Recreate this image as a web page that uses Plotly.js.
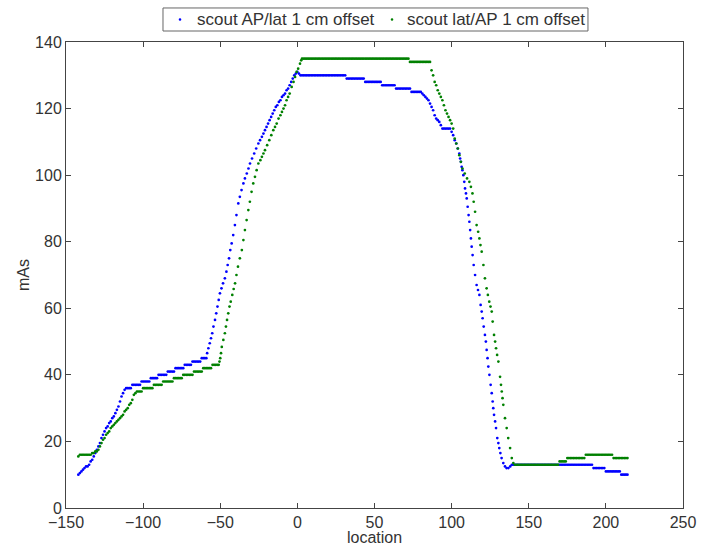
<!DOCTYPE html>
<html>
<head>
<meta charset="utf-8">
<script src="https://cdn.plot.ly/plotly-3.0.1.min.js"></script>
<style>
  html, body { margin: 0; padding: 0; background: #fff; }
  #chart { width: 707px; height: 546px; }
</style>
</head>
<body>
<div id="chart"></div>
<script>
// Tube current (mAs) along the scan, one dot per reconstructed location.
// Each entry is [location, mAs].

const seriesNames = ['scout AP/lat 1 cm offset', 'scout lat/AP 1 cm offset'];

const apLatPoints = [
  [-142,10],[-141,10.5],[-140,11],[-139,11.5],[-138,12],[-137,12.5],[-136,12.5],[-135,13],[-134,14],[-133,14.5],
  [-132,15.5],[-131,16.5],[-130,17.5],[-129,18.5],[-128,19.5],[-127,21],[-126,22],[-125,23],[-124,24],[-123,24.5],
  [-122,25.5],[-121,26],[-120,27],[-119,27.5],[-118,28.5],[-117,29.5],[-116,30.5],[-115,32],[-114,33.5],[-113,34.5],
  [-112,35.5],
  [-111,36],[-110,36],[-109,36],[-108,36],
  [-107,37],[-106,37],[-105,37],[-104,37],[-103,37],[-102,37],
  [-101,38],[-100,38],[-99,38],[-98,38],[-97,38],[-96,38],
  [-95,39],[-94,39],[-93,39],[-92,39],[-91,39],
  [-90,40],[-89,40],[-88,40],[-87,40],[-86,40],[-85,40],
  [-84,41],[-83,41],[-82,41],[-81,41],[-80,41],
  [-79,42],[-78,42],[-77,42],[-76,42],[-75,42],[-74,42],
  [-73,43],[-72,43],[-71,43],[-70,43],[-69,43],
  [-68,44],[-67,44],[-66,44],[-65,44],[-64,44],[-63,44],
  [-62,45],[-61,45],[-60,45],[-59,45],
  [-58.5,46.5],[-57.7,48],[-56.8,49.5],[-56,51],[-55.2,52.5],[-54.4,54.5],[-53.4,56.5],[-52.6,58.5],[-51.8,60.5],
  [-51,62.5],[-50.2,64.5],[-49.2,66],[-48.2,67.5],[-47,69],[-46,71],[-45.2,73],[-44.3,75],[-43.5,77.5],[-42.6,79.5],
  [-41.6,82],[-40.5,85],[-39.5,88],[-38.3,91.5],[-37.3,93.5],[-36.2,95.5],[-35,97.5],[-34,99],[-32.8,100.5],
  [-31.7,102],[-30.7,103.5],[-29.4,105],[-28,106.5],[-26.7,108],[-25.3,109.5],[-24.2,110.5],[-23,111.5],[-22,112.5],
  [-21,113.5],[-20,114.5],[-19,115.5],[-18,116.5],[-17,117.5],[-16,118.5],[-15,119.5],[-14,120.5],[-13,121],
  [-12,122],[-11,122.5],[-10,123.5],[-9,124],[-8,124.5],[-7,125.5],[-6,126],[-5,127],[-4,128],[-3,129],[-2,130],
  [-1,130.5],[0,131],[1,130.5],
  [2,130],[3,130],[4,130],[5,130],[6,130],[7,130],[8,130],[9,130],[10,130],[11,130],[12,130],[13,130],[14,130],
  [15,130],[16,130],[17,130],[18,130],[19,130],[20,130],[21,130],[22,130],[23,130],[24,130],[25,130],[26,130],
  [27,130],[28,130],[29,130],[30,130],[31,130],
  [32,129],[33,129],[34,129],[35,129],[36,129],[37,129],[38,129],[39,129],[40,129],[41,129],[42,129],[43,129],
  [44,128],[45,128],[46,128],[47,128],[48,128],[49,128],[50,128],[51,128],[52,128],[53,128],[54,128],
  [55,127],[56,127],[57,127],[58,127],[59,127],[60,127],[61,127],[62,127],[63,127],
  [64,126],[65,126],[66,126],[67,126],[68,126],[69,126],[70,126],[71,126],[72,126],[73,126],
  [74,125],[75,125],[76,125],[77,125],[78,125],[79,125],[80,125],
  [81,124.5],[82,124],[83,123.5],[84,123],[85,122.5],[86,121.5],[87,120.5],[88,119.5],[89,118],[90,117],
  [91,116.5],[92,116],[93,115],[94,114],[95,114],[96,114],[97,114],[98,114],[99,114],[100,113],[101,112],
  [102,110.5],[103,109.5],[104,108],[105,106.5],[105.5,105],[106,104],[106.5,102.5],[107,101.5],[107.6,100],
  [108.2,98],[108.7,96],[109.3,94.5],[109.8,93],[110.4,90.5],[111,88],[111.5,86],[112,83.5],[112.5,81],[113,78.5],
  [113.6,76],[114.3,73],[115.2,70],[116.2,67],[117.1,65.5],[118,64],[118.8,61],[119.5,59],[120.1,57],[120.8,54.5],
  [121.6,52],[122.2,50],[122.7,47.5],[123.3,45],[123.8,42.5],[124.5,40],[125.3,37],[126,34.5],[126.6,32],[127,30],
  [127.5,28],[128.2,26],[128.8,24],[129.6,21],[130.3,19.5],[130.9,18],[131.6,16.5],[132.4,15],[133.5,13.5],
  [134.6,12.5],[135.6,12],[136.8,12],[138,12.5],
  [139,13],[140,13],[141,13],[142,13],[143,13],[144,13],[145,13],[146,13],[147,13],[148,13],[149,13],[150,13],
  [151,13],[152,13],[153,13],[154,13],[155,13],[156,13],[157,13],[158,13],[159,13],[160,13],[161,13],[162,13],
  [163,13],[164,13],[165,13],[166,13],[167,13],[168,13],[169,13],[170,13],[171,13],[172,13],[173,13],[174,13],
  [175,13],[176,13],[177,13],[178,13],[179,13],[180,13],[181,13],[182,13],[183,13],[184,13],[185,13],[186,13],
  [187,13],[188,13],[189,13],[190,13],[191,13],
  [192,12],[193,12],[194,12],[195,12],[196,12],[197,12],[198,12],[199,12],
  [200,11],[201,11],[202,11],[203,11],[204,11],[205,11],[206,11],[207,11],[208,11],[209,11],
  [210,10],[211,10],[212,10],[213,10],[214,10]
];

const latApPoints = [
  [-142,15.5],[-141,16],[-140,16],[-139,16],[-138,16],[-137,16],[-136,16],[-135,16],[-134,16],
  [-133,16.5],[-132,16.5],[-131,17],[-130,17],[-129,17.5],[-128,18.5],[-127,19.5],[-126,20.5],[-125,21],
  [-124,22],[-123,22.5],[-122,23],[-121,24],[-120,24.5],[-119,25],[-118,25.5],[-117,26],[-116,26.5],[-115,27],
  [-114,27.5],[-113,28],[-112,29],[-111,29.5],[-110,30],[-109,31],[-108,31.5],[-107,32.5],[-106,34],[-105,34.5],
  [-104,35],[-103,35],[-102,35],[-101,35],
  [-100,36],[-99,36],[-98,36],[-97,36],[-96,36],[-95,36],[-94,36],
  [-93,37],[-92,37],[-91,37],[-90,37],[-89,37],[-88,37],
  [-87,38],[-86,38],[-85,38],[-84,38],[-83,38],[-82,38],[-81,38],
  [-80,39],[-79,39],[-78,39],[-77,39],[-76,39],[-75,39],
  [-74,40],[-73,40],[-72,40],[-71,40],[-70,40],[-69,40],[-68,40],
  [-67,41],[-66,41],[-65,41],[-64,41],[-63,41],[-62,41],
  [-61,42],[-60,42],[-59,42],[-58,42],[-57,42],[-56,42],
  [-55,43],[-54,43],[-53,43],[-52,43],[-51,43],
  [-50.5,44],[-50,45],[-49.5,46.5],[-49,48.4],[-48,50.5],[-47,52.5],[-46.3,54.5],[-45.6,56.5],[-44.8,58.5],
  [-44,60.5],[-43.2,62],[-42.2,64],[-41.3,65.8],[-40.4,67.5],[-39.5,70],[-38.5,72.5],[-37.3,75],[-36,77.5],
  [-35,80.5],[-34,83.5],[-32.9,86.5],[-31.8,89.5],[-30.8,92],[-29.7,95],[-28.6,97.5],[-27.5,99.5],[-26.4,101.5],
  [-25.3,103.5],[-24,104.5],[-23,105.5],[-22,106.5],[-21,107.5],[-19.6,109],[-18.2,110.5],[-16.9,112],
  [-15.6,113.5],[-14.5,114.5],[-13.4,115.5],[-12.2,117],[-11,118],[-10,119],[-9,120],[-8,121],[-7,122.5],
  [-6,123.5],[-5,124.5],[-3.7,126.5],[-2.5,128],[-1.5,129.5],[-0.5,131],[0.5,132],[1.7,133.5],[2.5,134.5],
  [3,135],[4,135],[5,135],[6,135],[7,135],[8,135],[9,135],[10,135],[11,135],[12,135],[13,135],[14,135],[15,135],
  [16,135],[17,135],[18,135],[19,135],[20,135],[21,135],[22,135],[23,135],[24,135],[25,135],[26,135],[27,135],
  [28,135],[29,135],[30,135],[31,135],[32,135],[33,135],[34,135],[35,135],[36,135],[37,135],[38,135],[39,135],
  [40,135],[41,135],[42,135],[43,135],[44,135],[45,135],[46,135],[47,135],[48,135],[49,135],[50,135],[51,135],
  [52,135],[53,135],[54,135],[55,135],[56,135],[57,135],[58,135],[59,135],[60,135],[61,135],[62,135],[63,135],
  [64,135],[65,135],[66,135],[67,135],[68,135],[69,135],[70,135],[71,135],[72,135],
  [73,134],[74,134],[75,134],[76,134],[77,134],[78,134],[79,134],[80,134],[81,134],[82,134],[83,134],[84,134],
  [85,134],[86,134],
  [87,131.5],[88,130],[89,128],[90,127],[91,125.5],[92,124.5],[93,123.5],[94,122.5],[95,121],[96,119.5],
  [97,118.5],[98,117.5],[99,116.5],[100,115.5],[101,114],[102,111],[103,109.5],[104,108],[105,106],[106,104],
  [107,102],[108.5,100.5],[110,99],[111.5,98],[112.5,96.5],[113.5,94.5],[114.3,92],[115.2,89],[116.2,85],
  [117.2,83],[118,81],[118.7,79],[119.5,77],[120.6,73],[121.6,69],[122.7,66],[123.5,64],[124.4,62],[125.2,60.5],
  [126,59],[126.6,56],[127.5,52],[128.2,50],[128.8,48],[129.5,46],[130.3,44],[131.4,39.4],[132,37],[132.5,35],
  [133,33],[133.5,31],[134.6,27],[135.7,24],[136.7,21],[137.9,18],[139,15],[140,13.5],
  [141,13],[142,13],[143,13],[144,13],[145,13],[146,13],[147,13],[148,13],[149,13],[150,13],[151,13],[152,13],
  [153,13],[154,13],[155,13],[156,13],[157,13],[158,13],[159,13],[160,13],[161,13],[162,13],[163,13],[164,13],
  [165,13],[166,13],[167,13],[168,13],[169,13],
  [170,14],[171,14],[172,14],[173,14],[174,14],
  [175,15],[176,15],[177,15],[178,15],[179,15],[180,15],[181,15],[182,15],[183,15],[184,15],[185,15],[186,15],
  [187,16],[188,16],[189,16],[190,16],[191,16],[192,16],[193,16],[194,16],[195,16],[196,16],[197,16],[198,16],
  [199,16],[200,16],[201,16],[202,16],[203,16],[204,16],
  [205,15],[206,15],[207,15],[208,15],[209,15],[210,15],[211,15],[212,15],[213,15],[214,15]
];

const xTickVals = [-150, -100, -50, 0, 50, 100, 150, 200, 250];
const yTickVals = [0, 20, 40, 60, 80, 100, 120, 140];

const seriesColors = ['#0000ff', '#008000'];

function dotTrace(points, name, color) {
  return {
    type: 'scatter',
    mode: 'markers',
    name: name,
    x: points.map(p => p[0]),
    y: points.map(p => p[1]),
    marker: { color: color, size: 2.7, line: { width: 0 } },
    hoverinfo: 'x+y',
    showlegend: false
  };
}

const traces = [
  dotTrace(apLatPoints, seriesNames[0], seriesColors[0]),
  dotTrace(latApPoints, seriesNames[1], seriesColors[1])
];

const axisColor = '#444';
const textColor = '#333';
const fontFamily = '"Liberation Sans", Arial, sans-serif';

// Boxed legend above the axes, one small dot before each label (paper coordinates).
const legendBox = { x0: 0.1572, x1: 0.8460, y0: 1.0236, y1: 1.0730 };
const legendMid = (legendBox.y0 + legendBox.y1) / 2;
const legendDotX = [0.1848, 0.5284];
const legendTextX = [0.2090, 0.5500];

const legendShapes = [
  {
    type: 'rect', xref: 'paper', yref: 'paper',
    x0: legendBox.x0, x1: legendBox.x1, y0: legendBox.y0, y1: legendBox.y1,
    line: { color: '#666', width: 1 }, fillcolor: '#ffffff', layer: 'above'
  }
].concat(seriesColors.map((c, i) => ({
  type: 'circle', xref: 'paper', yref: 'paper',
  xsizemode: 'pixel', ysizemode: 'pixel',
  xanchor: legendDotX[i], yanchor: legendMid,
  x0: -1.3, x1: 1.3, y0: -1.3, y1: 1.3,
  line: { width: 0 }, fillcolor: c, layer: 'above'
})));

const legendLabels = seriesNames.map((name, i) => ({
  text: name,
  xref: 'paper', yref: 'paper',
  x: legendTextX[i], y: legendMid,
  xanchor: 'left', yanchor: 'middle',
  showarrow: false,
  font: { family: fontFamily, size: 17, color: textColor }
}));

const layout = {
  width: 707,
  height: 546,
  margin: { l: 66, r: 24, t: 42, b: 38, pad: 0 },
  paper_bgcolor: '#ffffff',
  plot_bgcolor: '#ffffff',
  font: { family: fontFamily, size: 16, color: textColor },
  showlegend: false,
  shapes: legendShapes,
  annotations: legendLabels,
  xaxis: {
    range: [-150, 250],
    tickmode: 'array', tickvals: xTickVals,
    tickfont: { size: 16 },
    ticks: 'inside', ticklen: 5, tickcolor: axisColor, tickwidth: 1,
    showline: true, linecolor: axisColor, linewidth: 1, mirror: 'ticks',
    showgrid: false, zeroline: false,
    automargin: false,
    title: { text: 'location', standoff: 0, font: { size: 16 } }
  },
  yaxis: {
    range: [0, 140],
    tickmode: 'array', tickvals: yTickVals,
    tickfont: { size: 16 },
    ticks: 'inside', ticklen: 5, tickcolor: axisColor, tickwidth: 1,
    showline: true, linecolor: axisColor, linewidth: 1, mirror: 'ticks',
    showgrid: false, zeroline: false,
    automargin: false,
    title: { text: 'mAs', standoff: 1, font: { size: 16 } }
  }
};

Plotly.newPlot('chart', traces, layout, { staticPlot: true, displayModeBar: false });
</script>
</body>
</html>
